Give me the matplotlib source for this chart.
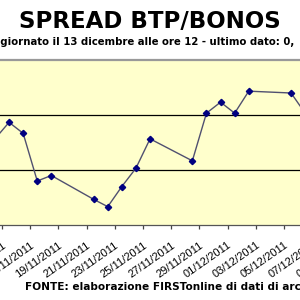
import matplotlib
matplotlib.use("Agg")
import matplotlib.pyplot as plt
import pandas as pd

plt.rcParams['font.family'] = ['Liberation Sans', 'DejaVu Sans']

# Spread values (percentage points).
dates = ["14/11/2011", "15/11/2011", "16/11/2011", "17/11/2011", "18/11/2011",
         "21/11/2011", "22/11/2011", "23/11/2011", "24/11/2011", "25/11/2011",
         "28/11/2011", "29/11/2011", "30/11/2011", "01/12/2011", "02/12/2011",
         "05/12/2011", "06/12/2011"]
spread = [0.47, 0.56, 0.50, 0.24, 0.27,
          0.14, 0.10, 0.21, 0.31, 0.47,
          0.35, 0.61, 0.67, 0.61, 0.73,
          0.72, 0.61]
tick_dates = ["11/11/2011", "13/11/2011", "15/11/2011", "17/11/2011", "19/11/2011",
              "21/11/2011", "23/11/2011", "25/11/2011", "27/11/2011", "29/11/2011",
              "01/12/2011", "03/12/2011", "05/12/2011", "07/12/2011", "09/12/2011",
              "11/12/2011"]

title = "SPREAD BTP/BONOS"
subtitle = "Aggiornato il 13 dicembre alle ore 12 - ultimo dato: 0,"
source = "FONTE: elaborazione FIRSTonline di dati di archivio"

x = pd.to_datetime(dates, dayfirst=True) + pd.Timedelta(hours=12)
ticks = pd.to_datetime(tick_dates, dayfirst=True)

fig = plt.figure(figsize=(3, 3), dpi=100)
# The chart is cropped: the plot area runs past both picture edges.
ax = fig.add_axes([-0.2, 0.25, 1.4, 0.55])
ax.set_facecolor("#FFFFCC")

ax.plot(x, spread, color="#505070", lw=1.0, marker="D", ms=3.2,
        mfc="#000080", mec="#000080", zorder=3)

ax.set_xticks(ticks)
ax.set_xticklabels([d.strftime("%d/%m/%Y") for d in ticks], rotation=35,
                   ha="right", va="top", rotation_mode="anchor", fontsize=8)
ax.tick_params(axis="x", direction="out", length=3, width=0.9, color="#444444", pad=8)

t0 = pd.Timestamp("2011-11-15")
ax.set_xlim(t0 - pd.Timedelta(days=4.397), t0 + pd.Timedelta(days=25.39))
ax.set_ylim(0, 0.9)
ax.set_yticks([0.3, 0.6])
ax.yaxis.grid(True, color="black", lw=0.9)
ax.tick_params(axis="y", left=False, labelleft=False)

for s in ("left", "right"):
    ax.spines[s].set_visible(False)
ax.spines["top"].set_color("#999999")
ax.spines["top"].set_linewidth(1.6)
ax.spines["bottom"].set_color("#555555")
ax.spines["bottom"].set_linewidth(0.9)

fig.text(0.5, 0.93, title, ha="center", va="center", fontsize=16.5,
         fontweight="bold", family="DejaVu Sans")
fig.text(-0.05, 0.86, subtitle, ha="left", va="center", fontsize=7.25,
         fontweight="bold", family="DejaVu Sans")
fig.text(0.083, 0.043, source, ha="left", va="center", fontsize=7.6,
         fontweight="bold", family="DejaVu Sans")

fig.savefig("out.png", dpi=100, facecolor="white")
